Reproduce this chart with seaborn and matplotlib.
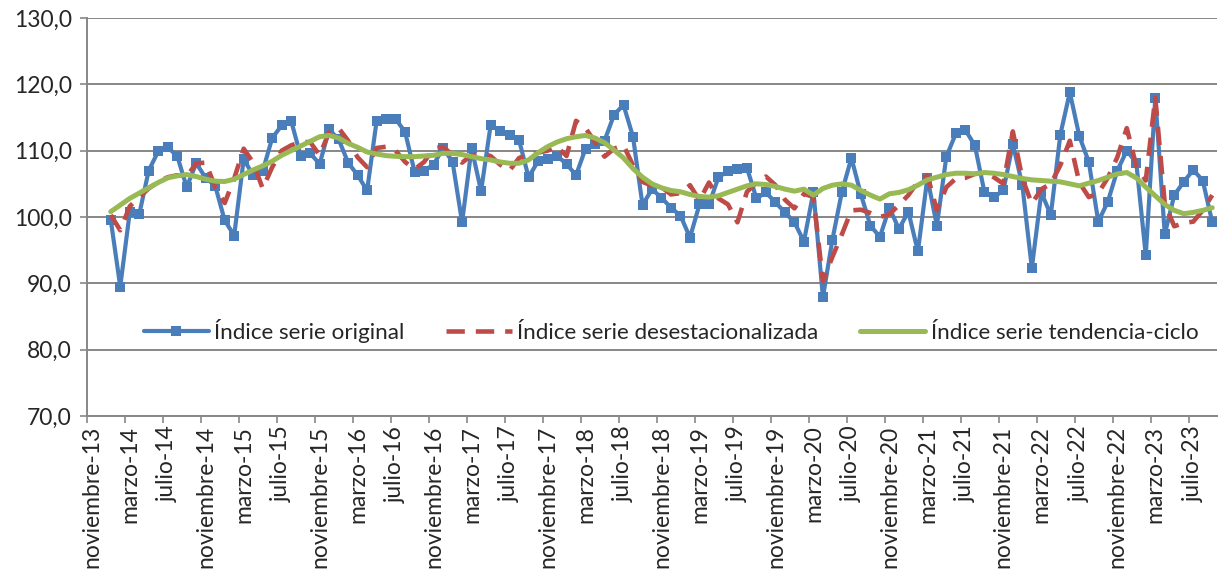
import matplotlib
matplotlib.use("Agg")

import matplotlib.pyplot as plt
import numpy as np
import pandas as pd
import seaborn as sns
from matplotlib.ticker import FixedLocator, FuncFormatter

# axis runs monthly from noviembre-13 to septiembre-23, series start in enero-14
N_MONTHS = 119
FIRST_DATA_MONTH = 2

TICK_LABELS = [
    "noviembre-13", "marzo-14", "julio-14", "noviembre-14", "marzo-15", "julio-15",
    "noviembre-15", "marzo-16", "julio-16", "noviembre-16", "marzo-17", "julio-17",
    "noviembre-17", "marzo-18", "julio-18", "noviembre-18", "marzo-19", "julio-19",
    "noviembre-19", "marzo-20", "julio-20", "noviembre-20", "marzo-21", "julio-21",
    "noviembre-21", "marzo-22", "julio-22", "noviembre-22", "marzo-23", "julio-23",
]

ORIGINAL = [
    99.6, 89.5, 100.7, 100.4, 107.0, 109.9, 110.5, 109.2, 104.5, 108.1,
    105.9, 104.7, 99.5, 97.2, 108.7, 106.3, 106.9, 111.9, 113.8, 114.5,
    109.2, 109.6, 108.0, 113.2, 111.7, 108.2, 106.3, 104.0, 114.5, 114.7,
    114.8, 112.8, 106.8, 107.0, 107.9, 110.4, 108.3, 99.2, 110.4, 103.9,
    113.8, 113.0, 112.4, 111.6, 106.0, 108.4, 108.8, 109.2, 108.0, 106.3,
    110.3, 111.0, 111.5, 115.4, 116.9, 112.1, 101.8, 104.2, 102.9, 101.4,
    100.2, 96.9, 101.9, 101.9, 106.0, 106.9, 107.2, 107.4, 102.8, 103.7,
    102.2, 100.7, 99.2, 96.3, 103.8, 87.9, 96.6, 103.8, 108.9, 103.4,
    98.7, 97.0, 101.4, 98.2, 100.8, 94.8, 105.9, 98.7, 109.1, 112.6,
    113.1, 110.8, 103.8, 103.0, 104.0, 111.0, 104.8, 92.3, 103.7, 100.3,
    112.4, 118.8, 112.2, 108.3, 99.3, 102.3, 107.0, 110.0, 108.2, 94.2,
    118.0, 97.4, 103.3, 105.3, 107.1, 105.5, 99.2,
]

DESESTACIONALIZADA = [
    100.3, 98.0, 101.6, 103.0, 104.3, 105.3, 106.0, 106.3, 106.1, 108.1,
    108.2, 104.5, 102.1, 105.8, 110.3, 108.2, 104.3, 107.5, 110.0, 110.8,
    111.3, 111.3, 109.3, 112.8, 113.4, 111.5, 109.0, 107.5, 110.4, 110.6,
    110.0, 108.3, 107.2, 108.3, 110.3, 110.6, 109.3, 108.2, 109.3, 109.5,
    109.2, 107.9, 107.0, 108.9, 109.4, 109.7, 110.0, 110.6, 109.2, 114.5,
    113.4, 111.3, 109.1, 110.3, 110.8, 107.8, 105.3, 104.7, 104.5, 103.4,
    103.6, 104.8, 102.5, 105.2, 102.8, 101.9, 99.2, 103.8, 105.2, 106.1,
    104.8, 102.6, 101.3, 103.5, 103.0, 90.3, 94.0, 97.4, 101.0, 101.1,
    100.6, 100.0, 100.4, 101.8, 103.3, 105.3, 106.3, 101.0, 104.5, 105.8,
    105.9, 106.5, 106.7, 106.0, 105.0, 112.9, 105.8, 102.0, 104.2, 105.0,
    107.8, 111.5, 105.2, 103.0, 103.6, 105.9, 109.0, 113.4, 107.7, 105.5,
    118.0, 102.0, 98.6, 99.1, 99.3, 101.0, 103.3,
]

TENDENCIA_CICLO = [
    100.8, 101.8, 102.8, 103.6, 104.4, 105.2, 105.9, 106.2, 106.4, 106.1,
    105.7, 105.4, 105.35, 105.7, 106.4, 107.1, 107.7, 108.4, 109.3, 110.0,
    110.7, 111.4, 112.1, 112.3, 111.9, 111.1, 110.5, 109.8, 109.5, 109.25,
    109.15, 109.1, 109.1, 109.2, 109.3, 109.6, 109.6, 109.4, 109.1, 108.8,
    108.6, 108.3, 108.1, 108.1, 108.6, 109.7, 110.6, 111.3, 111.8, 112.1,
    112.3, 111.9, 111.2, 110.1, 108.9, 107.3, 106.0, 105.0, 104.4, 104.0,
    103.8, 103.4, 103.1, 103.0, 103.2, 103.7, 104.2, 104.7, 105.0, 104.9,
    104.6, 104.2, 103.9, 104.2, 103.3, 104.3, 104.8, 105.0, 104.8, 104.0,
    103.3, 102.7, 103.5, 103.7, 104.1, 104.8, 105.6, 106.0, 106.4, 106.6,
    106.6, 106.5, 106.7, 106.6, 106.4, 106.1, 105.8, 105.6, 105.5, 105.4,
    105.3, 105.0, 104.7, 105.1, 105.5, 106.0, 106.5, 106.7, 105.9, 104.5,
    103.2, 101.9, 101.0, 100.5, 100.7, 101.0, 101.4,
]

Y_TICKS = [70, 80, 90, 100, 110, 120, 130]

BLUE = "#4A7EBB"
RED = "#BE4B48"
GREEN = "#98B954"
GRID = "#878787"


def main() -> None:
    sns.set_style("white")
    plt.rcParams["font.family"] = ["Lato", "DejaVu Sans"]

    pos = np.arange(FIRST_DATA_MONTH, FIRST_DATA_MONTH + len(ORIGINAL))
    df = pd.DataFrame({
        "mes": pos,
        "original": ORIGINAL,
        "desest": DESESTACIONALIZADA,
        "tendencia": TENDENCIA_CICLO,
    })

    fig = plt.figure(figsize=(12.19, 5.77), dpi=100)
    ax = fig.add_axes([87 / 1219, 1 - 416 / 577, (1217 - 87) / 1219, (416 - 18) / 577])

    sns.lineplot(data=df, x="mes", y="original", ax=ax, color=BLUE, lw=3.0,
                 marker="s", markersize=7.5, markeredgewidth=0,
                 label="Índice serie original")
    sns.lineplot(data=df, x="mes", y="desest", ax=ax, color=RED, lw=3.3,
                 linestyle=(0, (4.0, 2.4)),
                 label="Índice serie desestacionalizada")
    sns.lineplot(data=df, x="mes", y="tendencia", ax=ax, color=GREEN, lw=3.6,
                 label="Índice serie tendencia-ciclo")

    ax.set_xlim(-0.5, N_MONTHS - 0.5)
    ax.set_ylim(Y_TICKS[0], Y_TICKS[-1])
    ax.set_yticks(Y_TICKS)
    ax.yaxis.set_major_formatter(FuncFormatter(lambda v, _: f"{v:.1f}".replace(".", ",")))

    label_pos = np.arange(0, 4 * len(TICK_LABELS), 4)
    ax.xaxis.set_major_locator(FixedLocator(label_pos - 0.5))
    ax.xaxis.set_minor_locator(FixedLocator(label_pos))
    ax.set_xticklabels([], minor=False)
    ax.set_xticklabels(TICK_LABELS, minor=True, rotation=90, fontsize=16.5)
    ax.tick_params(axis="x", which="major", direction="out", length=5, width=1.2,
                   color=GRID, bottom=True)
    ax.tick_params(axis="x", which="minor", length=0, pad=7)
    ax.tick_params(axis="y", direction="out", length=5, width=1.2, color=GRID,
                   left=True, labelsize=16.5, pad=6)

    ax.grid(axis="y", color=GRID, lw=1.4)
    ax.grid(axis="x", visible=False)
    ax.set_axisbelow(True)
    for side in ("top", "right"):
        ax.spines[side].set_visible(False)
    for side in ("left", "bottom"):
        ax.spines[side].set_color(GRID)
        ax.spines[side].set_linewidth(1.4)

    ax.set_xlabel("")
    ax.set_ylabel("")
    ax.legend(loc="center left", bbox_to_anchor=(0.05, 0.214), ncol=3,
              frameon=False, fontsize=16.2, handlelength=2.9, handletextpad=0.25,
              columnspacing=1.85, borderaxespad=0, borderpad=0)

    fig.savefig("out.png", dpi=100)
    plt.close(fig)


if __name__ == "__main__":
    main()
